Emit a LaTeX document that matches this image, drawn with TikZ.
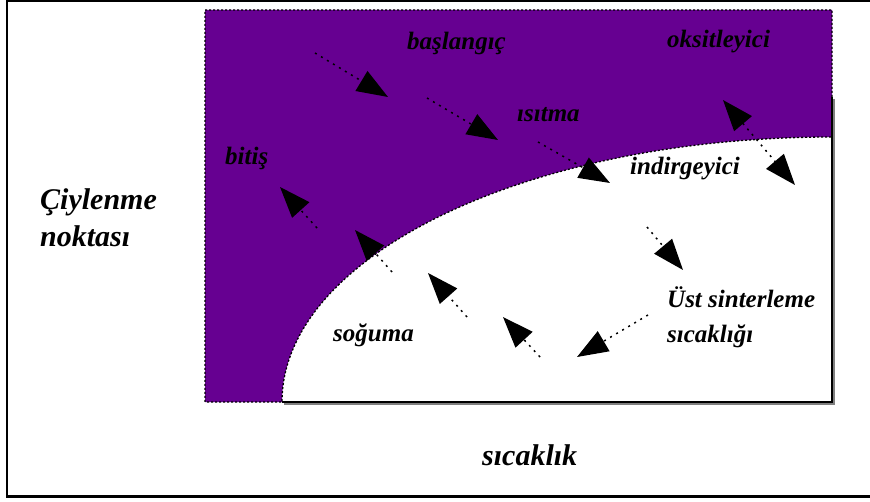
\documentclass[tikz,border=0pt]{standalone}
\usepackage{fontspec}
\setmainfont{Liberation Serif}
\usetikzlibrary{arrows.meta}
\definecolor{regionpurple}{RGB}{102,0,145}
\tikzset{
  lbl/.style={font=\fontsize{25}{28}\selectfont\bfseries\itshape, anchor=base west, inner sep=0pt},
  axislbl/.style={font=\fontsize{30}{34}\selectfont\bfseries\itshape, anchor=base west, inner sep=0pt},
  arr/.style={line width=1.5pt, dash pattern=on 2pt off 5pt, -{Triangle[length=31pt,width=23pt]}},
  darr/.style={line width=1.5pt, dash pattern=on 2pt off 5pt, {Triangle[length=31pt,width=23pt]}-{Triangle[length=31pt,width=23pt]}},
  dotborder/.style={line width=1.3pt, dash pattern=on 2pt off 2pt},
}
\begin{document}
\begin{tikzpicture}[x=1pt,y=-1pt]
\useasboundingbox (0,0) rectangle (870,502);
\fill[white] (0,0) rectangle (870,502);
% outer frame
\draw[line width=2.5pt] (870,1.2) -- (7,1.2) -- (7,496.5) -- (870,496.5);
% purple region
\fill[regionpurple] (205,10) -- (832,10) -- (832,137)
  arc[start angle=90, end angle=180, x radius=550pt, y radius=265pt] -- (205,402) -- cycle;
\draw[dotborder] (832,97) -- (832,10) -- (205,10) -- (205,402) -- (282,402)
  arc[start angle=180, end angle=90, x radius=550pt, y radius=265pt];
% solid plot edges with shadow
\draw[gray, line width=1.2pt] (834,99) -- (834,404) -- (284,404);
\draw[line width=1.3pt] (832,97) -- (832,402) -- (282,402);
% labels
\node[axislbl] (cy) at (40,210) {Çiylenme};
\node[axislbl] (nk) at (40,247) {noktası};
\node[axislbl] (sc) at (482,465) {sıcaklık};
\node[lbl] (bas) at (407,50) {başlangıç};
\node[lbl] (oks) at (667,48) {oksitleyici};
\node[lbl] (isi) at (517,122) {ısıtma};
\node[lbl] (bit) at (225,165) {bitiş};
\node[lbl] (ind) at (630,175) {indirgeyici};
\node[lbl] (sog) at (333,342) {soğuma};
\node[lbl] (ust) at (667,308) {Üst sinterleme};
\node[lbl] (sck) at (667,343) {sıcaklığı};
% arrow endpoints
\coordinate (a1s) at (315,53);  \coordinate (a1e) at (388,97);
\coordinate (a2s) at (427,98);  \coordinate (a2e) at (498,140);
\coordinate (a3s) at (538,142); \coordinate (a3e) at (610,183);
\coordinate (a4s) at (723,100); \coordinate (a4e) at (795,185);
\coordinate (a5s) at (647,227); \coordinate (a5e) at (683,270);
\coordinate (a6s) at (648,315); \coordinate (a6e) at (577,357);
\coordinate (a7s) at (540,357); \coordinate (a7e) at (503,317);
\coordinate (a8s) at (467,317); \coordinate (a8e) at (428,273);
\coordinate (a9s) at (392,272); \coordinate (a9e) at (355,230);
\coordinate (a10s) at (317,228); \coordinate (a10e) at (280,187);
\draw[arr] (a1s) -- (a1e);
\draw[arr] (a2s) -- (a2e);
\draw[arr] (a3s) -- (a3e);
\draw[darr] (a4s) -- (a4e);
\draw[arr] (a5s) -- (a5e);
\draw[arr] (a6s) -- (a6e);
\draw[arr] (a7s) -- (a7e);
\draw[arr] (a8s) -- (a8e);
\draw[arr] (a9s) -- (a9e);
\draw[arr] (a10s) -- (a10e);
\end{tikzpicture}
\end{document}
